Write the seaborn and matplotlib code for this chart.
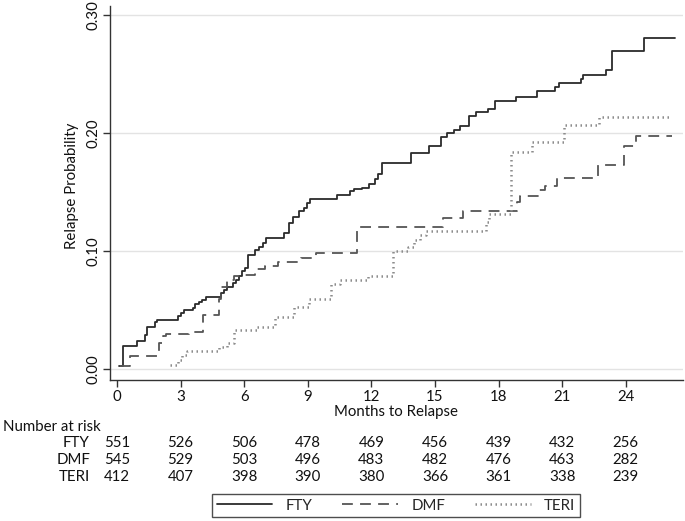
import numpy as np
import pandas as pd
import matplotlib
matplotlib.use("Agg")
import matplotlib.pyplot as plt
import matplotlib.transforms as mtransforms
import seaborn as sns

# ---- data ----
fty_t = [0.1, 0.3, 0.96, 1.3, 1.4, 1.8, 1.9, 2.9, 3.0, 3.15, 3.6, 3.7, 3.85, 4.0, 4.2,
         4.9, 5.05, 5.2, 5.45, 5.6, 5.75, 5.9, 6.05, 6.2, 6.5, 6.7, 6.9, 7.05, 7.9, 8.1,
         8.3, 8.6, 8.8, 8.95, 9.1, 10.4, 11.0, 11.2, 11.55, 11.9, 12.15, 12.3, 12.5,
         13.85, 14.7, 15.3, 15.55, 15.9, 16.2, 16.6, 16.95, 17.5, 17.85, 18.8, 19.8,
         20.65, 20.85, 21.9, 22.0, 23.05, 23.35, 24.85, 26.3]
fty_p = [0.003, 0.020, 0.024, 0.029, 0.036, 0.040, 0.042, 0.045, 0.048, 0.050, 0.052,
         0.055, 0.057, 0.059, 0.061, 0.065, 0.067, 0.070, 0.073, 0.076, 0.079, 0.083,
         0.086, 0.097, 0.101, 0.104, 0.107, 0.111, 0.116, 0.124, 0.129, 0.134, 0.137,
         0.141, 0.144, 0.148, 0.151, 0.153, 0.154, 0.157, 0.161, 0.166, 0.175, 0.183,
         0.189, 0.197, 0.200, 0.203, 0.206, 0.215, 0.218, 0.221, 0.2275, 0.231, 0.236,
         0.239, 0.2425, 0.246, 0.2496, 0.254, 0.270, 0.281, 0.281]

dmf_t = [0.15, 0.6, 2.0, 2.15, 2.3, 3.4, 4.05, 4.8, 4.9, 5.2, 5.5, 5.8, 6.5, 7.0, 7.6,
         8.7, 9.4, 11.3, 15.4, 16.3, 18.85, 19.0, 19.9, 20.2, 20.75, 22.7, 23.9, 24.5, 26.2]
dmf_p = [0.003, 0.011, 0.0225, 0.028, 0.030, 0.032, 0.046, 0.060, 0.070, 0.076, 0.079,
         0.080, 0.085, 0.088, 0.091, 0.094, 0.0985, 0.121, 0.128, 0.134, 0.142, 0.147,
         0.152, 0.1555, 0.162, 0.173, 0.189, 0.198, 0.198]

teri_t = [2.5, 2.9, 3.05, 3.3, 4.8, 5.2, 5.5, 6.6, 7.45, 8.35, 9.05, 10.1, 10.5, 11.85,
          13.0, 13.75, 14.0, 14.3, 14.6, 17.4, 17.55, 18.6, 19.6, 21.1, 22.75, 26.2]
teri_p = [0.004, 0.008, 0.012, 0.016, 0.019, 0.022, 0.033, 0.036, 0.044, 0.053, 0.060,
          0.072, 0.076, 0.079, 0.100, 0.104, 0.110, 0.114, 0.1176, 0.125, 0.132, 0.1846,
          0.193, 0.207, 0.2137, 0.2137]

groups = ["FTY", "DMF", "TERI"]
risk_months = [0, 3, 6, 9, 12, 15, 18, 21, 24]
risk_fty = [551, 526, 506, 478, 469, 456, 439, 432, 256]
risk_dmf = [545, 529, 503, 496, 483, 482, 476, 463, 282]
risk_teri = [412, 407, 398, 390, 380, 366, 361, 338, 239]

# ---- styling ----
sns.set_theme(style="white")
plt.rcParams['font.family'] = ['Lato', 'DejaVu Sans']
plt.rcParams['font.size'] = 10

FS = 10.8
fig = plt.figure(figsize=(6.85, 5.21), dpi=100)
ax = fig.add_axes([110/685, 1-380/521, (683-110)/685, (380-6)/521])

series = [
    ("FTY", fty_t, fty_p, dict(color="#2b2b2b", linestyle="-", linewidth=1.3)),
    ("DMF", dmf_t, dmf_p, dict(color="#555555", linestyle=(0, (6, 4)), linewidth=1.3)),
    ("TERI", teri_t, teri_p, dict(color="#8c8c8c", linestyle=(0, (0.6, 1.4)), linewidth=1.8,
                                  dash_capstyle="butt")),
]
for name, t, p, st in series:
    df = pd.DataFrame({"t": t, "p": p})
    sns.lineplot(data=df, x="t", y="p", ax=ax, drawstyle="steps-post",
                 estimator=None, sort=False, label=name, **st)

ax.set_xlim(-0.33, 26.7)
ax.set_ylim(-0.009, 0.308)
ax.set_xticks(risk_months)
ax.set_yticks([0.0, 0.1, 0.2, 0.3])
ax.set_yticklabels(["0.00", "0.10", "0.20", "0.30"], rotation=90, va="center")
ax.yaxis.grid(True, color="#e3e3e3", linewidth=1.0)
ax.xaxis.grid(False)
for s in ["top", "right"]:
    ax.spines[s].set_visible(False)
for s in ["left", "bottom"]:
    ax.spines[s].set_color("#333333")
    ax.spines[s].set_linewidth(1.0)
ax.tick_params(axis="both", which="major", direction="out", length=5, width=1,
               color="#333333", labelsize=FS, labelcolor="#111111", pad=2, bottom=True, left=True)
ax.set_xlabel("Months to Relapse", fontsize=FS, labelpad=1, color="#111111")
ax.set_ylabel("Relapse Probability", fontsize=FS, labelpad=2, color="#111111")
ax.yaxis.set_label_coords(-0.054, 0.52)
ax.get_legend().remove()

# ---- number at risk table ----
trans = mtransforms.blended_transform_factory(ax.transData, fig.transFigure)
fig.text(3/685, 1-427/521, "Number at risk", ha="left", va="center", fontsize=FS, color="#111111")
rows = [("FTY", risk_fty, 443), ("DMF", risk_dmf, 460), ("TERI", risk_teri, 477)]
for lab, vals, ypx in rows:
    yf = 1 - ypx/521
    fig.text(90/685, yf, lab, ha="right", va="center", fontsize=FS, color="#111111")
    for m, v in zip(risk_months, vals):
        ax.text(m, yf, str(v), transform=trans, ha="center", va="center",
                fontsize=FS, color="#111111", clip_on=False)

# ---- legend ----
handles, labels = ax.get_lines()[:3], groups
leg = fig.legend(handles, labels, loc="center", ncol=3,
                 bbox_to_anchor=(396/685, 1-505.5/521), frameon=True, fancybox=False,
                 edgecolor="#222222", fontsize=FS, handlelength=3.7, columnspacing=2.0,
                 handletextpad=0.9, borderpad=0.3, borderaxespad=0)
leg.get_frame().set_linewidth(1.0)

fig.savefig("out.png", dpi=100)
